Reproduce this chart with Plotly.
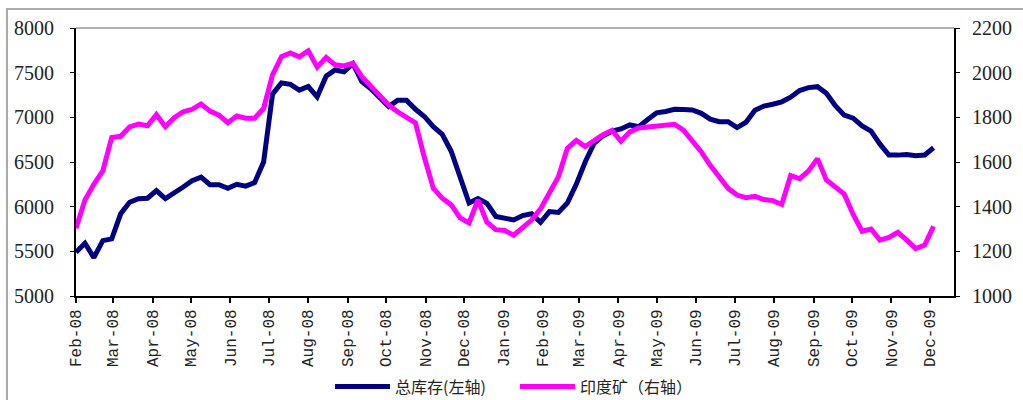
import pandas as pd
import plotly.graph_objects as go

start_date = "2008-02-01"
n_weeks = 97
dates = pd.date_range(start_date, periods=n_weeks, freq="7D")

total_stock = [
    5490, 5590, 5430, 5620, 5640, 5920, 6050, 6090, 6094, 6180,
    6090, 6150, 6220, 6290, 6330, 6245, 6245, 6205, 6250, 6230,
    6270, 6500, 7260, 7385, 7370, 7305, 7345, 7230, 7460, 7530,
    7510, 7600, 7400, 7320, 7215, 7120, 7190, 7190, 7090, 7010,
    6895, 6810, 6620, 6336, 6040, 6090, 6037, 5890, 5870, 5851,
    5900, 5920, 5825, 5945, 5935, 6040, 6250, 6500, 6710, 6795,
    6845, 6870, 6915, 6895, 6975, 7050, 7066, 7090, 7088, 7082,
    7045, 6980, 6951, 6951, 6885, 6945, 7080, 7125, 7147, 7174,
    7225, 7300, 7333, 7343, 7270, 7130, 7025, 6990, 6903, 6845,
    6700, 6578, 6577, 6585, 6570, 6578, 6660,
]

india_ore = [
    1303, 1430, 1500, 1560, 1710, 1715, 1757, 1770, 1762, 1812,
    1758, 1798, 1825, 1836, 1860, 1828, 1810, 1776, 1806, 1796,
    1796, 1840, 1990, 2072, 2088, 2071, 2098, 2025, 2068, 2035,
    2030, 2042, 1982, 1942, 1897, 1855, 1825, 1800, 1775, 1620,
    1482, 1438, 1408, 1350, 1327, 1430, 1330, 1297, 1293, 1272,
    1303, 1340, 1390, 1465, 1534, 1661, 1697, 1669, 1696, 1722,
    1742, 1693, 1735, 1752, 1757, 1761, 1768, 1769, 1743, 1697,
    1645, 1585, 1530, 1482, 1452, 1440, 1446, 1432, 1427, 1410,
    1540, 1525, 1560, 1615, 1520, 1488, 1456, 1365, 1290, 1300,
    1250, 1262, 1285, 1250, 1212, 1228, 1312,
]

name_left = "总库存(左轴)"
name_right = "印度矿（右轴）"

fig = go.Figure()
fig.add_trace(go.Scatter(x=dates, y=total_stock, name=name_left, mode="lines",
                         line=dict(color="#000080", width=5), yaxis="y"))
fig.add_trace(go.Scatter(x=dates, y=india_ore, name=name_right, mode="lines",
                         line=dict(color="#FF00FF", width=5), yaxis="y2"))

num_font = dict(family="Liberation Serif", size=20, color="#222")

fig.update_layout(
    width=1023, height=400,
    margin=dict(l=76, r=69, t=28, b=104, autoexpand=False),
    plot_bgcolor="white", paper_bgcolor="white",
    showlegend=True,
    legend=dict(orientation="h", x=0.5, xanchor="center",
                y=-0.338, yanchor="middle",
                font=dict(family="Noto Sans CJK SC", size=16, color="#222"),
                itemwidth=55, entrywidth=115, tracegroupgap=0),
    xaxis=dict(
        type="date", range=["2008-02-01", "2009-12-20"], automargin=False,
        dtick="M1", tick0="2008-02-01", tickformat="%b-%y", tickangle=-90,
        showgrid=False, zeroline=False,
        showline=True, linecolor="black", linewidth=2,
        ticks="outside", ticklen=5, tickwidth=1.5, tickcolor="black",
        tickfont=dict(family="Liberation Mono", size=16, color="#222"),
    ),
    yaxis=dict(
        range=[5000, 8000], dtick=500, showgrid=False, zeroline=False,
        showline=True, linecolor="black", linewidth=2, automargin=False,
        ticks="outside", ticklen=4, tickcolor="black",
        tickfont=num_font, ticklabelstandoff=12,
    ),
    yaxis2=dict(
        range=[1000, 2200], dtick=200, overlaying="y", side="right",
        showgrid=False, zeroline=False, automargin=False,
        showline=True, linecolor="black", linewidth=2,
        ticks="outside", ticklen=4, tickcolor="black",
        tickfont=num_font, ticklabelstandoff=8,
    ),
    shapes=[
        dict(type="line", xref="paper", yref="paper", x0=0, x1=1, y0=1, y1=1,
             line=dict(color="#999999", width=1.5)),
        dict(type="rect", xref="paper", yref="paper", x0=-0.0786, x1=1.2, y0=-0.5, y1=1.071,
             line=dict(color="#aaaaaa", width=2), fillcolor="rgba(0,0,0,0)"),
    ],
)

fig.write_html("out.html")
